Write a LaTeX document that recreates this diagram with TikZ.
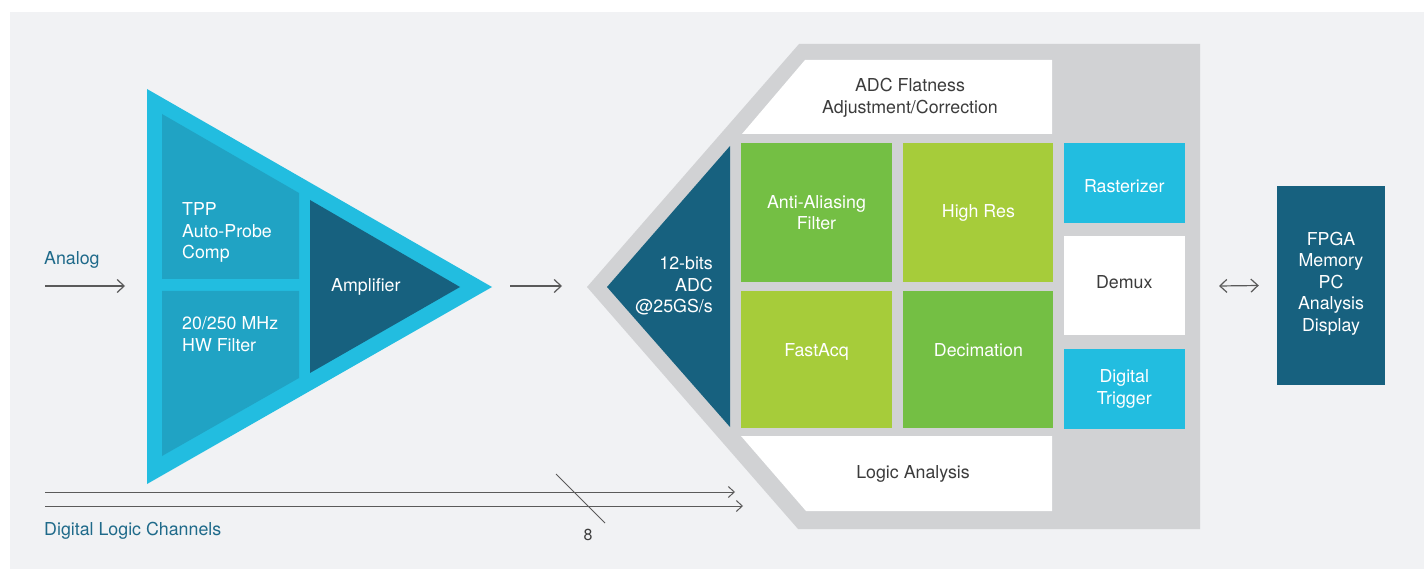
\documentclass[tikz,border=0pt]{standalone}
\usepackage{fontspec}
\setmainfont{TeX Gyre Heros}
\usetikzlibrary{positioning,arrows.meta}

\definecolor{bgpanel}{HTML}{F1F2F4}
\definecolor{ampcyan}{HTML}{22BDE0}
\definecolor{ampblue}{HTML}{20A3C4}
\definecolor{darkteal}{HTML}{17617F}
\definecolor{greendark}{HTML}{74BF44}
\definecolor{greenlight}{HTML}{A6CC3A}
\definecolor{hexgray}{HTML}{D1D2D4}
\definecolor{textgray}{HTML}{3C3C3C}
\definecolor{labelteal}{HTML}{1F6A8A}
\definecolor{arrowgray}{HTML}{5A5A5A}

\tikzset{
  block/.style={rectangle, inner sep=0pt, align=center, text=white,
    font=\fontsize{17.8}{21.5}\selectfont},
  txt/.style={inner sep=0pt, font=\fontsize{17.8}{21.5}\selectfont},
  flow/.style={draw=arrowgray, line width=1.2pt, -{Straight Barb[length=7pt,width=13pt]}},
  bus/.style={draw=arrowgray, line width=1pt, -{Straight Barb[length=6pt,width=11pt]}},
}

\begin{document}
\begin{tikzpicture}[x=1pt,y=-1pt]

\useasboundingbox (0,0) rectangle (1424,569);

% background panel
\fill[bgpanel] (10,12) rectangle (1424,569);

%%% front end

% amplifier triangle
\fill[ampcyan] (147,89) -- (492,287) -- (147,484) -- cycle;
\fill[ampblue] (162,114) -- (299,193) -- (299,279) -- (162,279) -- cycle;
\fill[ampblue] (162,291) -- (299,291) -- (299,378) -- (162,456) -- cycle;
\fill[darkteal] (310,200) -- (460,287) -- (310,373) -- cycle;

\node [txt, text=white, align=left, anchor=west] (tpp) at (182,232.5) {TPP\\Auto-Probe\\Comp};
\node [txt, text=white, align=left, anchor=west] (hwf) at (182,334) {20/250 MHz\\HW Filter};
\node [txt, text=white, anchor=west] (amp) at (331,287) {Amplifier};

% inputs
\node [txt, text=labelteal, anchor=west] (analog) at (44,260) {Analog};
\node [txt, text=labelteal, anchor=west] (dlc) at (44,531) {Digital Logic Channels};

%%% acquisition block

% gray hexagon
\fill[hexgray] (587,287) -- (799,44) -- (1200,44) -- (1200,529) -- (798,529) -- cycle;
\fill[darkteal] (607,287) -- (730,146) -- (730,427) -- cycle;
\node [txt, text=white, align=right, anchor=east] (adc) at (713,286) {12-bits\\ADC\\@25GS/s};

% top and bottom white panels
\fill[white] (742,134) -- (805,60) -- (1052,60) -- (1052,134) -- cycle;
\node [txt, text=textgray, align=center] (flat) at (910,98) {ADC Flatness\\Adjustment/Correction};
\fill[white] (741,436) -- (1052,436) -- (1052,511) -- (806,511) -- cycle;
\node [txt, text=textgray] (logic) at (913,474) {Logic Analysis};

% processing blocks
\node [block, fill=greendark, minimum width=151pt, minimum height=139pt] (aa) at (816.5,212.5) {Anti-Aliasing\\Filter};
\node [block, fill=greenlight, minimum width=150pt, minimum height=139pt, right=11pt of aa] (hr) {High Res};
\node [block, fill=greenlight, minimum width=151pt, minimum height=137pt, below=9pt of aa, text depth=20pt] (fa) {FastAcq};
\node [block, fill=greendark, minimum width=150pt, minimum height=137pt, below=9pt of hr, text depth=20pt] (dec) {Decimation};

% right column
\node [block, fill=ampcyan, minimum width=121pt, minimum height=80pt, right=10pt of hr.north east, anchor=north west, text height=19pt] (ras) {Rasterizer};
\node [block, fill=white, text=textgray, minimum width=121pt, minimum height=99pt, below=13pt of ras, text depth=7pt] (demux) {Demux};
\node [block, fill=ampcyan, minimum width=121pt, minimum height=80pt, below=13pt of demux] (trig) {Digital\\Trigger};

% back end
\node [block, fill=darkteal, minimum width=108pt, minimum height=199pt, text depth=8pt] (fpga) at (1331,285.5) {FPGA\\Memory\\PC\\Analysis\\Display};

%%% connectors
\coordinate (ain) at (45,286);
\coordinate (aout) at (125,286);
\coordinate (mid1) at (510,286);
\coordinate (mid2) at (562,286);
\coordinate (d1a) at (45,492);
\coordinate (d1b) at (735,492);
\coordinate (d2a) at (45,506);
\coordinate (d2b) at (743,506);
\coordinate (s1) at (556,474);
\coordinate (s2) at (605,523);
\coordinate (bl) at (1219,286);

\draw [flow] (ain) -- (aout);
\draw [flow] (mid1) -- (mid2);
\draw [flow, {Straight Barb[length=7pt,width=13pt]}-{Straight Barb[length=7pt,width=13pt]}] (bl) -- ([xshift=-18pt]fpga.west);

% logic channel bus
\draw [bus] (d1a) -- (d1b);
\draw [bus] (d2a) -- (d2b);
\draw [draw=arrowgray, line width=0.9pt] (s1) -- (s2);
\node [inner sep=0pt, text=textgray, font=\fontsize{16}{18}\selectfont] (eight) at (588,535) {8};

\end{tikzpicture}
\end{document}
